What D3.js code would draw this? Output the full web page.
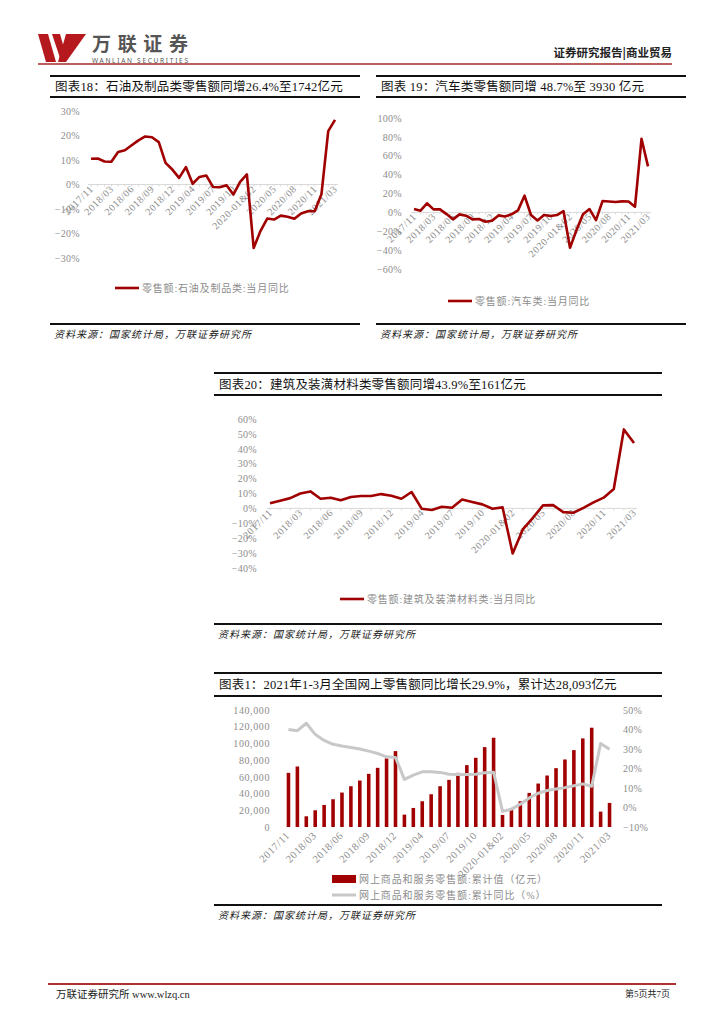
<!DOCTYPE html>
<html>
<head>
<meta charset="utf-8">
<script src="https://cdn.jsdelivr.net/npm/d3@7"></script>
<style>
  body { margin: 0; background: #fff; }
  svg text { font-family: 'Liberation Serif', 'Noto Sans CJK SC', serif; }
</style>
</head>
<body>
<svg id="page" width="724" height="1024"></svg>
<script>
// Categories (Jan & Feb are reported together)
const months = [
  "2017/11", "2017/12",
  "2018/01&02", "2018/03", "2018/04", "2018/05", "2018/06", "2018/07", "2018/08", "2018/09", "2018/10", "2018/11", "2018/12",
  "2019/01&02", "2019/03", "2019/04", "2019/05", "2019/06", "2019/07", "2019/08", "2019/09", "2019/10", "2019/11", "2019/12",
  "2020-01&02", "2020/03", "2020/04", "2020/05", "2020/06", "2020/07", "2020/08", "2020/09", "2020/10", "2020/11", "2020/12",
  "2021/01&02", "2021/03"
];

// Retail sales YoY, %
const petroleum = [10.5, 10.6, 9.4, 9.3, 13.3, 14.0, 16.0, 18.0, 19.6, 19.3, 17.3, 8.8, 6.1,
  2.7, 7.1, 0.3, 3.1, 3.7, -1.0, -1.1, -0.3, -4.1, 1.1, 4.1,
  -25.9, -19.0, -13.9, -14.3, -12.7, -13.2, -14.0, -11.8, -10.9, -10.9, -4.0, 21.8, 26.4];

const autos = [3.5, 1.8, 9.6, 3.2, 3.2, -1.8, -7.4, -2.1, -3.5, -7.4, -7.1, -9.9, -8.9,
  -3.2, -4.3, -2.1, 2.1, 17.7, -2.8, -8.5, -2.8, -3.9, -2.8, 1.4,
  -37.5, -18.8, -2.0, 3.5, -8.2, 12.0, 11.5, 11.0, 11.7, 11.5, 6.0, 78.0, 48.7];

const building = [3.4, 5.1, 6.9, 10.0, 11.4, 6.5, 7.2, 5.4, 7.6, 8.3, 8.3, 9.6, 8.5,
  6.5, 11.0, -0.2, -1.1, 1.1, 0.4, 6.0, 4.3, 2.7, -0.2, 0.7,
  -30.2, -14.1, -6.3, 2.0, 2.2, -2.5, -2.9, 0.4, 4.0, 7.2, 13.0, 53.0, 43.9];

// Online retail sales of goods and services: cumulative value (亿元) and cumulative YoY (%)
const onlineCum = [64800, 72400, 12800, 20000, 26400, 33200, 41200, 48800, 55600, 63600, 70800, 82000, 90800,
  14800, 22800, 30800, 39200, 48800, 56400, 64800, 74000, 82800, 95600, 106800,
  14400, 22000, 30800, 40800, 52000, 61600, 70400, 80800, 92000, 106000, 118800, 18400, 28800];

const onlineYoy = [40.0, 39.4, 43.2, 37.5, 34.4, 32.4, 31.5, 30.8, 30.0, 28.9, 27.7, 26.0, 25.7,
  14.4, 16.6, 18.3, 18.3, 18.0, 17.1, 16.9, 16.9, 17.1, 17.8, 18.1,
  -2.0, -0.8, 1.7, 4.9, 7.3, 8.7, 9.5, 10.2, 11.2, 12.1, 10.9, 32.8, 29.9];

const RED = "#a00000";
const GRAY_TXT = "#8c8c8c";
const svg = d3.select("#page");

// ---------- page header ----------
const logo = svg.append("g");
logo.append("path").attr("d", "M38,34 L48,34 L56,62 L46,62 Z").attr("fill", "#b5191e");
logo.append("path").attr("d", "M52,34 L60,34 L64,48 L60,58 Z").attr("fill", "#b5191e");
logo.append("path").attr("d", "M66,34 L86,34 L66,62 L58,62 Z").attr("fill", "#b5191e");
logo.append("text").attr("x", 92).attr("y", 51)
  .style("font-family", "'Noto Sans CJK SC', sans-serif").style("font-weight", "bold")
  .style("font-size", "19px").attr("fill", "#555").attr("textLength", 96).text("万联证券");
logo.append("text").attr("x", 92).attr("y", 62.5)
  .style("font-family", "'Noto Sans', sans-serif").style("font-size", "6.5px").attr("fill", "#555")
  .attr("textLength", 96).text("WANLIAN SECURITIES");
svg.append("text").attr("x", 672).attr("y", 57).attr("text-anchor", "end")
  .style("font-family", "'Noto Sans CJK SC', sans-serif").style("font-weight", "bold")
  .style("font-size", "11.5px").attr("fill", "#222").text("证券研究报告|商业贸易");
svg.append("line").attr("x1", 38).attr("x2", 672).attr("y1", 64).attr("y2", 64)
  .attr("stroke", "#a52a2a").attr("stroke-width", 1.5);

// ---------- footer ----------
svg.append("line").attr("x1", 48).attr("x2", 676).attr("y1", 984).attr("y2", 984)
  .attr("stroke", "#b03030").attr("stroke-width", 2);
svg.append("text").attr("x", 56).attr("y", 998).style("font-size", "10.5px").attr("fill", "#222")
  .text("万联证券研究所 www.wlzq.cn");
svg.append("text").attr("x", 670).attr("y", 997).attr("text-anchor", "end")
  .style("font-size", "9px").attr("fill", "#222").text("第5页共7页");

// ---------- figure frame: title bars + source ----------
function frame(f) {
  const g = svg.append("g");
  [f.top, f.mid, f.bottom].forEach(y => g.append("line")
    .attr("x1", f.x0).attr("x2", f.x1).attr("y1", y).attr("y2", y)
    .attr("stroke", "#111").attr("stroke-width", 2));
  g.append("text").attr("x", f.x0 + 5).attr("y", (f.top + f.mid) / 2 + 4.5)
    .style("font-size", "12.5px").style("letter-spacing", "0.2px").attr("fill", "#111").text(f.title);
  g.append("text").attr("x", f.x0 + 4).attr("y", f.bottom + 14)
    .style("font-size", "10px").style("letter-spacing", "1px").style("font-style", "italic")
    .attr("fill", "#222").text("资料来源：国家统计局，万联证券研究所");
}

// ---------- single line chart ----------
function lineChart(c) {
  const g = svg.append("g");
  const x = d3.scalePoint().domain(months).range([c.x0, c.x1]);
  const y = d3.scaleLinear().domain(c.domain).range([c.yBot, c.yTop]);

  // y axis labels
  const yAxis = d3.axisLeft(y).tickValues(d3.range(c.domain[0], c.domain[1] + 0.1, c.step))
    .tickSize(0).tickPadding(0).tickFormat(d => d3.format("d")(d) + "%");
  g.append("g").attr("transform", "translate(" + c.labelX + ",0)").call(yAxis)
    .call(s => s.select(".domain").remove())
    .selectAll("text").style("font-size", "10px").style("letter-spacing", "0.3px").attr("fill", GRAY_TXT)
    .style("font-family", "'Liberation Serif', serif");

  // zero axis line with small ticks
  const y0 = y(0);
  g.append("line").attr("x1", c.x0 - 3).attr("x2", c.x1 + 3).attr("y1", y0).attr("y2", y0)
    .attr("stroke", "#d9d9d9").attr("stroke-width", 1);
  g.selectAll(".tk").data(months).enter().append("line")
    .attr("x1", d => x(d)).attr("x2", d => x(d)).attr("y1", y0).attr("y2", y0 + 2)
    .attr("stroke", "#d9d9d9");

  // x labels, every third month
  g.selectAll(".xl").data(months.filter((d, i) => i % 3 === 0)).enter().append("text")
    .attr("text-anchor", "end")
    .attr("transform", d => "translate(" + (x(d) + 3) + "," + (y0 + 5) + ") rotate(-45)")
    .style("font-size", "10px").style("letter-spacing", "0.6px").attr("fill", GRAY_TXT).text(d => d);

  // series line
  const line = d3.line().x((d, i) => x(months[i])).y(d => y(d));
  g.append("path").attr("d", line(c.values)).attr("fill", "none")
    .attr("stroke", RED).attr("stroke-width", 2.6).attr("stroke-linejoin", "round");

  // legend
  g.append("line").attr("x1", c.legend.x).attr("x2", c.legend.x + 24)
    .attr("y1", c.legend.y).attr("y2", c.legend.y).attr("stroke", RED).attr("stroke-width", 2.6);
  g.append("text").attr("x", c.legend.x + 27).attr("y", c.legend.y + 3.5)
    .style("font-size", "10px").style("letter-spacing", "0.8px").attr("fill", GRAY_TXT).text(c.legend.text);
}

// Figure 18
frame({ x0: 50, x1: 360, top: 76, mid: 97, bottom: 324,
  title: "图表18：石油及制品类零售额同增26.4%至1742亿元" });
lineChart({ x0: 91, x1: 335, yTop: 111, yBot: 258, domain: [-30, 30], step: 10, labelX: 80,
  values: petroleum, legend: { x: 115, y: 288, text: "零售额:石油及制品类:当月同比" } });

// Figure 19
frame({ x0: 376, x1: 686, top: 76, mid: 97, bottom: 324,
  title: "图表 19：汽车类零售额同增 48.7%至 3930 亿元" });
lineChart({ x0: 414, x1: 648, yTop: 118, yBot: 269, domain: [-60, 100], step: 20, labelX: 402,
  values: autos, legend: { x: 448, y: 301, text: "零售额:汽车类:当月同比" } });

// Figure 20
frame({ x0: 214, x1: 662, top: 373, mid: 395, bottom: 624,
  title: "图表20：建筑及装潢材料类零售额同增43.9%至161亿元" });
lineChart({ x0: 270, x1: 634, yTop: 419, yBot: 568, domain: [-40, 60], step: 10, labelX: 257,
  values: building, legend: { x: 340, y: 599, text: "零售额:建筑及装潢材料类:当月同比" } });

// ---------- Figure 1: bars + line on two axes ----------
frame({ x0: 214, x1: 662, top: 673, mid: 696, bottom: 905,
  title: "图表1：2021年1-3月全国网上零售额同比增长29.9%，累计达28,093亿元" });
(function () {
  const g = svg.append("g");
  const x = d3.scaleBand().domain(months).range([284, 614]).paddingInner(0.6).paddingOuter(0.3);
  const yL = d3.scaleLinear().domain([0, 140000]).range([827, 710]);
  const yR = d3.scaleLinear().domain([-10, 50]).range([827, 710]);
  const cx = d => x(d) + x.bandwidth() / 2;

  g.append("g").attr("transform", "translate(270,0)")
    .call(d3.axisLeft(yL).tickValues(d3.range(0, 140001, 20000)).tickSize(0).tickPadding(0)
      .tickFormat(d3.format(",")))
    .call(s => s.select(".domain").remove())
    .selectAll("text").style("font-size", "10px").style("letter-spacing", "0.6px").attr("fill", GRAY_TXT)
    .style("font-family", "'Liberation Serif', serif");

  g.append("g").attr("transform", "translate(623,0)")
    .call(d3.axisRight(yR).tickValues(d3.range(-10, 51, 10)).tickSize(0).tickPadding(0)
      .tickFormat(d => d3.format("d")(d) + "%"))
    .call(s => s.select(".domain").remove())
    .selectAll("text").style("font-size", "10px").style("letter-spacing", "0.3px").attr("fill", GRAY_TXT)
    .style("font-family", "'Liberation Serif', serif");

  g.selectAll(".bar").data(onlineCum).enter().append("rect")
    .attr("x", (d, i) => x(months[i])).attr("width", x.bandwidth())
    .attr("y", d => yL(d)).attr("height", d => yL(0) - yL(d)).attr("fill", RED);

  const line = d3.line().x((d, i) => cx(months[i])).y(d => yR(d));
  g.append("path").attr("d", line(onlineYoy)).attr("fill", "none")
    .attr("stroke", "#c8c8c8").attr("stroke-width", 3).attr("stroke-linejoin", "round");

  g.selectAll(".xl").data(months.filter((d, i) => i % 3 === 0)).enter().append("text")
    .attr("text-anchor", "end")
    .attr("transform", d => "translate(" + (cx(d) + 2) + "," + 836 + ") rotate(-45)")
    .style("font-size", "10.5px").style("letter-spacing", "0.6px").attr("fill", GRAY_TXT).text(d => d);

  // legend
  g.append("rect").attr("x", 332).attr("y", 875).attr("width", 24).attr("height", 8).attr("fill", RED);
  g.append("text").attr("x", 359).attr("y", 882.5).style("font-size", "10px").style("letter-spacing", "0.9px")
    .attr("fill", GRAY_TXT).text("网上商品和服务零售额:累计值（亿元）");
  g.append("line").attr("x1", 332).attr("x2", 356).attr("y1", 895).attr("y2", 895)
    .attr("stroke", "#c8c8c8").attr("stroke-width", 3);
  g.append("text").attr("x", 359).attr("y", 898.5).style("font-size", "10px").style("letter-spacing", "0.9px")
    .attr("fill", GRAY_TXT).text("网上商品和服务零售额:累计同比（%）");
})();
</script>
</body>
</html>
